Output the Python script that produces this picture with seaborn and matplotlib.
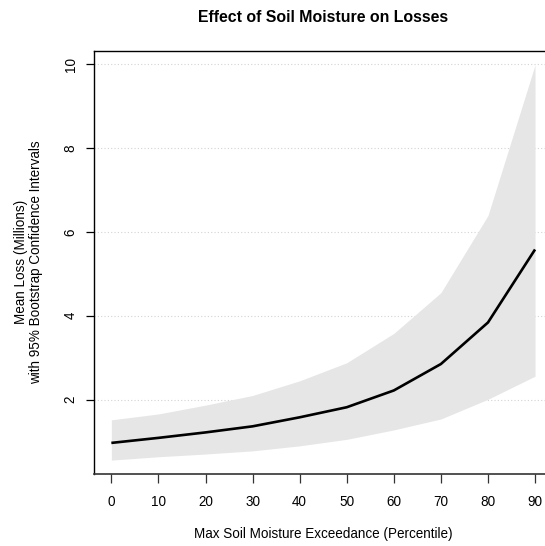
import matplotlib
matplotlib.use("Agg")
import matplotlib.pyplot as plt
import seaborn as sns
import pandas as pd

# ---- data ----
percentile = [0, 10, 20, 30, 40, 50, 60, 70, 80, 90]
mean_loss = [0.97, 1.09, 1.22, 1.365, 1.58, 1.82, 2.22, 2.85, 3.84, 5.58]
ci_lower = [0.56, 0.64, 0.705, 0.78, 0.90, 1.055, 1.28, 1.54, 2.01, 2.56]
ci_upper = [1.52, 1.66, 1.87, 2.10, 2.45, 2.88, 3.58, 4.55, 6.39, 9.98]
x_ticks = [0, 10, 20, 30, 40, 50, 60, 70, 80, 90]
y_ticks = [2, 4, 6, 8, 10]
x_grid = [10, 30, 50, 70, 90]

title = "Effect of Soil Moisture on Losses"
xlabel = "Max Soil Moisture Exceedance (Percentile)"
ylabel = "Mean Loss (Millions)\nwith 95% Bootstrap Confidence Intervals"

df = pd.DataFrame({"percentile": percentile, "mean": mean_loss,
                   "lower": ci_lower, "upper": ci_upper})

sns.set_style("white")
plt.rcParams["font.family"] = ["Liberation Sans", "DejaVu Sans"]
plt.rcParams["text.color"] = "black"
plt.rcParams["axes.labelcolor"] = "black"
plt.rcParams["xtick.labelcolor"] = "black"
plt.rcParams["ytick.labelcolor"] = "black"

W, H = 545, 546
fig = plt.figure(figsize=(W / 100, H / 100), dpi=100)
ax_left, ax_right, ax_top, ax_bottom = 94.4, 552.0, 50.7, 474.0
ax = fig.add_axes([ax_left / W, 1 - ax_bottom / H,
                   (ax_right - ax_left) / W, (ax_bottom - ax_top) / H])

ax.fill_between(df["percentile"], df["lower"], df["upper"],
                color="#e6e6e6", linewidth=0, zorder=1)
sns.lineplot(data=df, x="percentile", y="mean", ax=ax, color="black",
             linewidth=1.9, zorder=3, solid_capstyle="butt")

ax.set_xlim(-3.6, 93.6)
ax.set_ylim(0.229, 10.317)

ax.set_xticks(x_ticks)
ax.set_xticklabels([str(v) for v in x_ticks])
ax.set_xticks(x_grid, minor=True)
ax.set_yticks(y_ticks)
ax.set_yticklabels([str(v) for v in y_ticks], rotation=90, va="center")

ax.grid(False)
ax.xaxis.grid(True, which="minor", color="#d3d3d3", linestyle=(0, (1, 2)), linewidth=0.8, zorder=0)
ax.yaxis.grid(True, which="major", color="#d3d3d3", linestyle=(0, (1, 2)), linewidth=0.8, zorder=0)
ax.set_axisbelow(True)

fs = 9.75
ax.tick_params(axis="x", which="major", direction="out", length=6.5, width=0.9,
               color="#333333", labelsize=fs, pad=8.5, bottom=True, labelcolor="black")
ax.tick_params(axis="x", which="minor", length=0)
ax.tick_params(axis="y", which="major", direction="out", length=6, width=0.9,
               color="black", labelsize=fs, pad=6.0, left=True, labelcolor="black")

for side, sp in ax.spines.items():
    sp.set_color("black")
    sp.set_linewidth(1.0)
ax.spines["bottom"].set_color("#333333")
ax.spines["bottom"].set_linewidth(1.2)

ax.set_xlabel(xlabel, fontsize=fs, labelpad=13, color="black")
ax.set_ylabel(ylabel, fontsize=fs, labelpad=15, linespacing=1.1, color="black")

fig.text((ax_left + ax_right) / 2 / W, 1 - 17 / H, title, ha="center", va="center",
         fontsize=11.4, fontweight="bold", color="black")

fig.savefig("out.png", dpi=100)
